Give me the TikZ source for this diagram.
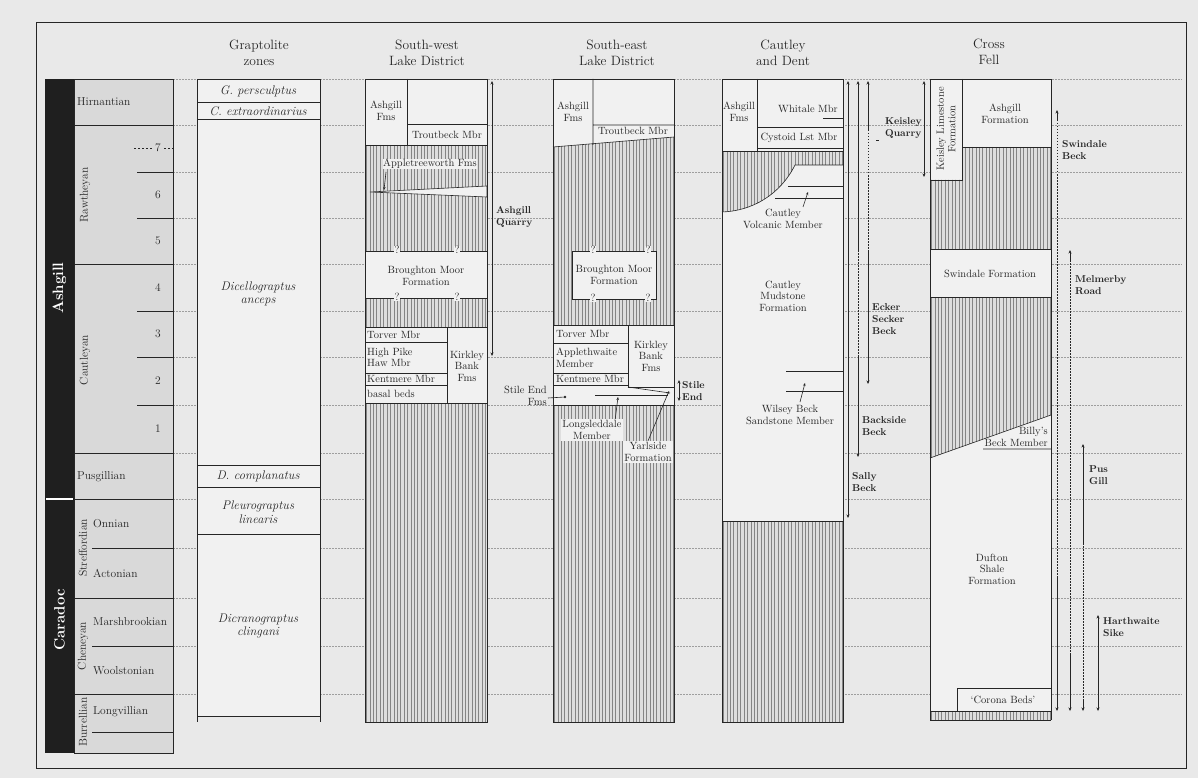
\documentclass[tikz,border=0pt]{standalone}
\usetikzlibrary{arrows.meta}
\definecolor{pagebg}{HTML}{E9E9E9}
\definecolor{colbg}{HTML}{F1F1F1}
\definecolor{stagebg}{HTML}{D9D9D9}
\definecolor{ink}{HTML}{262626}
\definecolor{hatchc}{HTML}{858585}
\definecolor{hatchbg}{HTML}{DEDEDE}
\newcommand{\vhatch}[5]{%
  \begin{scope}
    \clip #1;
    \fill[hatchbg] (#2,#4) rectangle (#3,#5);
    \foreach \i in {0,...,40}{%
      \pgfmathsetmacro{\lw}{0.35+0.45*(mod(\i,3)==0)}
      \draw[hatchc, line width=\lw pt] ({#2+1.5+\i*3.4},#4) -- ({#2+1.5+\i*3.4},#5);}
  \end{scope}}
\begin{document}
\begin{tikzpicture}[x=1pt,y=-1pt,
  every node/.style={inner sep=1pt, text=ink},
  lab/.style={font=\fontsize{10.5}{11.5}\selectfont, align=center},
  labl/.style={font=\fontsize{10.5}{11.5}\selectfont, align=left, anchor=west},
  loc/.style={font=\bfseries\fontsize{10}{12}\selectfont, align=left, anchor=west},
  stg/.style={font=\fontsize{11.5}{12.5}\selectfont},
  zone/.style={font=\itshape\fontsize{12.5}{13.5}\selectfont, align=center},
  head/.style={font=\fontsize{13.5}{16}\selectfont, align=center},
  series/.style={font=\bfseries\fontsize{15}{16}\selectfont, text=white, rotate=90},
  col/.style={draw=ink, line width=0.8pt},
  thin/.style={draw=ink, line width=0.6pt},
  guide/.style={draw=black!38, line width=0.6pt, dash pattern=on 1.5pt off 1.5pt},
  rng/.style={draw=ink, line width=0.8pt, {Stealth[length=3.5pt,width=3pt]}-{Stealth[length=3.5pt,width=3pt]}},
  rngdot/.style={draw=ink, line width=0.8pt, dash pattern=on 1.5pt off 1.5pt},
  qm/.style={font=\fontsize{10.5}{11}\selectfont, fill=colbg, inner sep=0.3pt}
]
\useasboundingbox (0,0) rectangle (1198,778);
\fill[pagebg] (0,0) rectangle (1198,778);
\draw[ink, line width=0.7pt] (36,22) rectangle (1186,768);

% guide lines
\foreach \gy in {79,125,172,218,264,311,357,405,453,499,548,598,646,694}
  \draw[guide] (173,\gy) -- (1182,\gy);

% ---------------- stage column
\fill[black!88] (45,79) rectangle (74,753);
\draw[white, line width=1.6pt] (46,499) -- (73,499);
\node[series] (ashgill) at (59.5,288) {Ashgill};
\node[series] (caradoc) at (59.5,620) {Caradoc};
\fill[stagebg] (74,79) rectangle (173,753);
\draw[col] (74,79) rectangle (173,753);
\foreach \sy in {125,264,453,499,598,694} \draw[thin] (74,\sy) -- (173,\sy);
\foreach \sy in {172,218,311,357,405} \draw[thin] (137,\sy) -- (173,\sy);
\foreach \sy in {548,646,732} \draw[thin] (92,\sy) -- (173,\sy);
\draw[thin, dash pattern=on 2pt off 2pt] (134,148) -- (152,148);
\draw[thin, dash pattern=on 2pt off 2pt] (164,148) -- (173,148);
\node[stg, anchor=west] (hirn) at (76,102) {Hirnantian};
\node[stg, rotate=90] (rawth) at (85,195) {Rawtheyan};
\node[stg, rotate=90] (cautl) at (85,360) {Cautleyan};
\node[stg, anchor=west] (pusg) at (76,477) {Pusgillian};
\node[stg, rotate=90] (streff) at (83,548) {Streffordian};
\node[stg, rotate=90] (chen) at (83,646) {Cheneyan};
\node[stg, rotate=90] (burr) at (83,722) {Burrellian};
\node[stg, anchor=west] (onn) at (92,524) {Onnian};
\node[stg, anchor=west] (act) at (92,573) {Actonian};
\node[stg, anchor=west] (marsh) at (92,622) {Marshbrookian};
\node[stg, anchor=west] (wool) at (92,671) {Woolstonian};
\node[stg, anchor=west] (longv) at (92,712) {Longvillian};
\foreach \n/\ny in {7/148,6/195,5/241,4/288,3/334,2/381,1/429}
  \node[stg, fill=stagebg, inner sep=0.5pt] (sub\n) at (158,\ny) {\n};

% ---------------- graptolite zones
\node[head] (hgrap) at (259,53) {Graptolite\\zones};
\fill[colbg] (197,79) rectangle (320,716);
\draw[col] (197,79) rectangle (320,716);
\draw[col] (197,716) -- (197,722) (320,716) -- (320,722);
\foreach \zy in {102,119,465,487,534} \draw[thin] (197,\zy) -- (320,\zy);
\node[zone] (z1) at (258,91) {G. persculptus};
\node[zone] (z2) at (258,111) {C. extraordinarius};
\node[zone] (z3) at (258,294) {Dicellograptus\\anceps};
\node[zone] (z4) at (258,476) {D. complanatus};
\node[zone] (z5) at (258,512) {Pleurograptus\\linearis};
\node[zone] (z6) at (258,626) {Dicranograptus\\clingani};

% ---------------- South-west Lake District
\node[head] (hsw) at (427,53) {South-west\\Lake District};
\fill[colbg] (365,79) rectangle (487,722);
\vhatch{(365,145) rectangle (487,251)}{365}{487}{145}{251}
\vhatch{(365,298) rectangle (487,327)}{365}{487}{298}{327}
\vhatch{(365,403) rectangle (487,722)}{365}{487}{403}{722}
\filldraw[fill=colbg, thin] (370,192) -- (487,186) -- (487,197) -- cycle;
\draw[col] (365,79) rectangle (487,722);
\draw[thin] (407,79) -- (407,145) (365,145) -- (487,145) (407,124) -- (487,124);
\draw[thin] (365,251) -- (487,251) (365,298) -- (487,298) (365,327) -- (487,327);
\draw[thin] (447,327) -- (447,403) (365,342) -- (447,342) (365,373) -- (447,373) (365,385) -- (447,385) (365,403) -- (487,403);
\node[lab] (swash) at (386,111) {Ashgill\\Fms};
\node[lab] (swtrout) at (447,135) {Troutbeck Mbr};
\node[lab, fill=colbg, inner sep=0.5pt] (swapp) at (430,164) {Appletreeworth Fms};
\draw[thin, -{Stealth[length=3pt,width=2.5pt]}] (386,172) -- (384,190);
\node[lab] (swbro) at (426,276) {Broughton Moor\\Formation};
\foreach \qx in {397,457} {\node[qm] at (\qx,250) {?}; \node[qm] at (\qx,297) {?};}
\node[labl] (swtor) at (366,334.5) {Torver Mbr};
\node[labl] (swhp) at (366,357.5) {High Pike\\Haw Mbr};
\node[labl] (swken) at (366,379) {Kentmere Mbr};
\node[labl] (swbas) at (366,394) {basal beds};
\node[lab] (swkir) at (467,366) {Kirkley\\Bank\\Fms};
\draw[rng] (492,81) -- (492,356);
\node[loc] (aq) at (495,217) {Ashgill\\Quarry};

% ---------------- South-east Lake District
\node[head] (hse) at (617,53) {South-east\\Lake District};
\fill[colbg] (553,79) rectangle (674,722);
\vhatch{(553,147) -- (674,137) -- (674,325) -- (553,325) -- cycle}{553}{674}{137}{325}
\vhatch{(553,405) rectangle (674,722)}{553}{674}{405}{722}
\filldraw[fill=colbg, thin] (572,251) rectangle (656,299);
\draw[col] (553,79) rectangle (674,722);
\draw[thin] (593,79) -- (593,145) (593,125) -- (674,125) (553,147) -- (674,137);
\draw[thin] (553,325) -- (674,325) (628,325) -- (628,387) (553,343) -- (628,343) (553,373) -- (628,373) (553,385) -- (628,385) (628,387) -- (674,387);
\draw[thin] (553,405) -- (674,405);
\draw[thin] (628,387) -- (670,393);
\draw[thin] (595,395) -- (668,395);
\node[lab] (seash) at (573,112) {Ashgill\\Fms};
\node[lab] (setrout) at (633,131) {Troutbeck Mbr};
\node[lab] (sebro) at (614,275) {Broughton Moor\\Formation};
\foreach \qx in {593,648} {\node[qm] at (\qx,250) {?}; \node[qm] at (\qx,298) {?};}
\node[labl] (setor) at (555,334) {Torver Mbr};
\node[labl] (seapp) at (555,358) {Applethwaite\\Member};
\node[labl] (seken) at (555,379) {Kentmere Mbr};
\node[lab] (sekir) at (651,356) {Kirkley\\Bank\\Fms};
\node[lab, align=right, anchor=east] (sesef) at (548,396) {Stile End\\Fms};
\fill[ink] (565,397) circle (1.3pt);
\coordinate (sedot) at (565,397);
\draw[thin] (sesef.east |- sedot) ++(0,1) -- (sedot);
\node[lab, fill=colbg, inner sep=1.5pt] (selong) at (592,430) {Longsleddale\\Member};
\node[lab, fill=colbg, inner sep=1.5pt] (seyar) at (648,452) {Yarlside\\Formation};
\draw[thin, -{Stealth[length=3pt,width=2.5pt]}] (selong.north east) ++(-8,0) -- (618,397);
\draw[thin, -{Stealth[length=3pt,width=2.5pt]}] (seyar.north) -- (669,391);
\draw[rng] (679,380) -- (679,401);
\node[loc] (sestile) at (681,391) {Stile\\End};

% ---------------- Cautley and Dent
\node[head] (hcd) at (783,53) {Cautley\\and Dent};
\fill[colbg] (722,79) rectangle (843,722);
\vhatch{(722,151) -- (843,151) -- (843,165) -- (795,165) .. controls (780,195) and (752,211) .. (722,212) -- cycle}{722}{843}{151}{212}
\vhatch{(722,521) rectangle (843,722)}{722}{843}{521}{722}
\draw[thin] (843,165) -- (795,165) .. controls (780,195) and (752,211) .. (722,212);
\draw[col] (722,79) rectangle (843,722);
\draw[thin] (757,79) -- (757,151) (757,127) -- (843,127) (757,148) -- (843,148) (722,151) -- (843,151) (823,118) -- (843,118);
\draw[thin] (788,186) -- (843,186) (775,198) -- (843,198);
\draw[thin] (722,521) -- (843,521);
\draw[thin] (786,371) -- (843,371) (786,391) -- (843,391);
\node[lab] (cdash) at (739,112) {Ashgill\\Fms};
\node[lab] (cdwh) at (808,109) {Whitale Mbr};
\node[lab] (cdcy) at (799,138) {Cystoid Lst Mbr};
\node[lab] (cdvol) at (783,219) {Cautley\\Volcanic Member};
\draw[thin, -{Stealth[length=3pt,width=2.5pt]}] (803,207) -- (808,192);
\node[lab] (cdmud) at (783,296) {Cautley\\Mudstone\\Formation};
\node[lab] (cdwil) at (790,415) {Wilsey Beck\\Sandstone Member};
\draw[thin, -{Stealth[length=3pt,width=2.5pt]}] (800,402) -- (805,383);
% range lines
\draw[rng] (848,81) -- (848,518);
\draw[thin, line width=0.8pt, {Stealth[length=3.5pt,width=3pt]}-] (858,81) -- (858,250);
\draw[rngdot] (858,250) -- (858,357);
\draw[thin, line width=0.8pt, -{Stealth[length=3.5pt,width=3pt]}] (858,357) -- (858,457);
\draw[thin, line width=0.8pt, {Stealth[length=3.5pt,width=3pt]}-] (868,81) -- (868,130);
\draw[rngdot] (868,130) -- (868,250);
\draw[thin, line width=0.8pt, -{Stealth[length=3.5pt,width=3pt]}] (868,250) -- (868,384);
\node[loc] (keq) at (884,128) {Keisley\\Quarry};
\draw[thin] (876,140) -- (879,140);
\node[loc] (ecker) at (871,319) {Ecker\\Secker\\Beck};
\node[loc] (backs) at (861,426) {Backside\\Beck};
\node[loc] (sally) at (851,482) {Sally\\Beck};

% ---------------- Cross Fell
\node[head] (hcf) at (989,52) {Cross\\Fell};
\fill[colbg] (930,79) rectangle (1051,711);
\vhatch{(930,180) -- (962,180) -- (962,147) -- (1051,147) -- (1051,249) -- (930,249) -- cycle}{930}{1051}{147}{249}
\vhatch{(930,297) -- (1051,297) -- (1051,415) -- (930,458) -- cycle}{930}{1051}{297}{458}
\vhatch{(930,711) rectangle (1051,720)}{930}{1051}{711}{720}
\draw[col] (930,79) rectangle (1051,711);
\draw[thin] (930,720) -- (1051,720) (930,711) -- (930,720) (1051,711) -- (1051,720);
\draw[thin] (962,79) -- (962,180) -- (930,180) (962,147) -- (1051,147);
\draw[thin] (930,249) -- (1051,249) (930,297) -- (1051,297);
\draw[thin] (930,458) -- (1051,415) (983,449) -- (1051,449);
\draw[thin] (957,711) -- (957,688) -- (1051,688);
\node[lab, rotate=90] (cfkl) at (946,129) {Keisley Limestone\\Formation};
\node[lab] (cfash) at (1005,114) {Ashgill\\Formation};
\node[lab] (cfsw) at (990,274) {Swindale Formation};
\node[lab, align=right, anchor=east] (cfbb) at (1049,437) {Billy's\\Beck Member};
\node[lab] (cfduf) at (992,569) {Dufton\\Shale\\Formation};
\node[lab] (cfcor) at (1003,700) {`Corona Beds'};
% ranges
\draw[rng] (924,81) -- (924,177);
\draw[thin, line width=0.8pt, {Stealth[length=3.5pt,width=3pt]}-] (1057,110) -- (1057,120);
\draw[rngdot] (1057,120) -- (1057,577);
\draw[thin, line width=0.8pt, -{Stealth[length=3.5pt,width=3pt]}] (1057,577) -- (1057,711);
\draw[thin, line width=0.8pt, {Stealth[length=3.5pt,width=3pt]}-] (1070,250) -- (1070,260);
\draw[rngdot] (1070,260) -- (1070,653);
\draw[thin, line width=0.8pt, -{Stealth[length=3.5pt,width=3pt]}] (1070,653) -- (1070,711);
\draw[thin, line width=0.8pt, {Stealth[length=3.5pt,width=3pt]}-] (1083,444) -- (1083,543);
\draw[rngdot] (1083,543) -- (1083,700);
\draw[thin, line width=0.8pt, -{Stealth[length=3.5pt,width=3pt]}] (1083,700) -- (1083,711);
\draw[rng] (1098,615) -- (1098,711);
\node[loc] (swb) at (1061,150) {Swindale\\Beck};
\node[loc] (melr) at (1074,285) {Melmerby\\Road};
\node[loc] (pusgill) at (1088,475) {Pus\\Gill};
\node[loc] (harth) at (1102,627) {Harthwaite\\Sike};
\end{tikzpicture}
\end{document}
